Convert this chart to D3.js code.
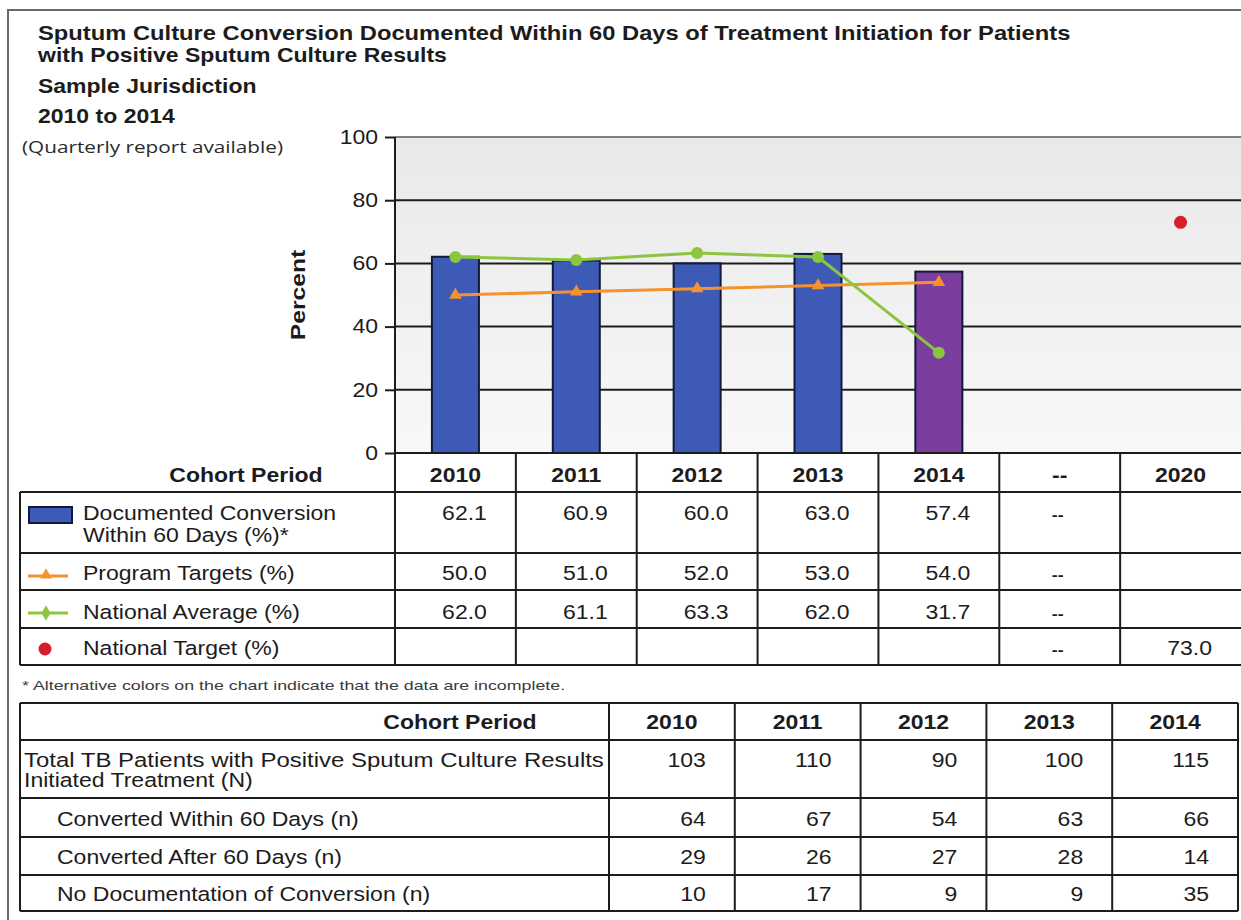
<!DOCTYPE html>
<html>
<head>
<meta charset="utf-8">
<script src="https://cdn.jsdelivr.net/npm/d3@7"></script>
<style>
  body { margin: 0; background: #fff; }
  svg { display: block; }
</style>
</head>
<body>
<div id="chart"></div>
<script>
// chart data
const periods = ["2010", "2011", "2012", "2013", "2014", "--", "2020"];
const dataYears = ["2010", "2011", "2012", "2013", "2014"];
const conversionPct = [62.1, 60.9, 60.0, 63.0, 57.4];
const incomplete = [false, false, false, false, true];
const programTargets = [50.0, 51.0, 52.0, 53.0, 54.0];
const nationalAverage = [62.0, 61.1, 63.3, 62.0, 31.7];
const nationalTargetYear = "2020";
const nationalTarget = 73.0;
const yTicks = [0, 20, 40, 60, 80, 100];

const totalPatients = [103, 110, 90, 100, 115];
const convertedWithin = [64, 67, 54, 63, 66];
const convertedAfter = [29, 26, 27, 28, 14];
const noDocumentation = [10, 17, 9, 9, 35];

const W = 1241, H = 920;
const FONT = "Arial, 'Liberation Sans', sans-serif";
const K = 1.18; // the source picture is stretched sideways a bit
const INK = "#1c1c1c";

const svg = d3.select("#chart").append("svg")
    .attr("width", W)
    .attr("height", H);

// text helper: draws text with horizontal stretch, optional fit to width
function txt(g, x, y, s, o) {
    o = o || {};
    let t = g.append("text")
        .attr("transform", "translate(" + x + "," + y + ") scale(" + (o.k || K) + ",1)")
        .attr("text-anchor", o.anchor || "start")
        .style("font-family", o.font || FONT)
        .style("font-size", (o.size || 19.5) + "px")
        .style("font-weight", o.bold ? "bold" : "normal")
        .attr("fill", o.fill || INK)
        .text(s);
    if (o.w) {
        let len = t.node().getComputedTextLength();
        t.attr("transform", "translate(" + x + "," + y + ") scale(" + (o.w / len) + ",1)");
    }
    return t;
}
function hline(g, x1, x2, y, c, w) {
    g.append("line").attr("x1", x1).attr("x2", x2).attr("y1", y).attr("y2", y)
        .attr("stroke", c || INK).attr("stroke-width", w || 2);
}
function vline(g, x, y1, y2, c, w) {
    g.append("line").attr("x1", x).attr("x2", x).attr("y1", y1).attr("y2", y2)
        .attr("stroke", c || INK).attr("stroke-width", w || 2);
}

// outer frame
svg.append("rect").attr("x", 8).attr("y", 10).attr("width", W + 20).attr("height", H + 20)
    .attr("fill", "none").attr("stroke", "#6a6a6a").attr("stroke-width", 2);

// titles
txt(svg, 38, 40, "Sputum Culture Conversion Documented Within 60 Days of Treatment Initiation for Patients", {bold: true, w: 1032});
txt(svg, 38, 62, "with Positive Sputum Culture Results", {bold: true});
txt(svg, 38, 93, "Sample Jurisdiction", {bold: true});
txt(svg, 38, 123, "2010 to 2014", {bold: true});
txt(svg, 22, 153, "(Quarterly report available)", {font: "'Open Sans', 'Noto Sans', sans-serif", size: 17, w: 261, fill: "#2a2a2a"});

// scales
const x = d3.scaleBand().domain(periods).range([395, 1241]);
const y = d3.scaleLinear().domain([0, 100]).range([453, 137]);
const xc = function(p) { return x(p) + x.bandwidth() / 2; };

// plot background
const defs = svg.append("defs");
const grad = defs.append("linearGradient").attr("id", "bg").attr("x1", 0).attr("x2", 0).attr("y1", 0).attr("y2", 1);
grad.append("stop").attr("offset", "0%").attr("stop-color", "#e9e9e9");
grad.append("stop").attr("offset", "100%").attr("stop-color", "#f8f8f8");
svg.append("rect").attr("x", 396).attr("y", y(100)).attr("width", W - 396).attr("height", y(0) - y(100))
    .attr("fill", "url(#bg)");

// gridlines
const plot = svg.append("g");
yTicks.filter(function(v) { return v > 0; }).forEach(function(v) {
    hline(plot, 395, W, y(v), v === 100 ? "#808080" : INK, 2);
});

// y axis
const yAxis = svg.append("g")
    .attr("transform", "translate(395,0)")
    .call(d3.axisLeft(y).tickValues(yTicks).tickSize(10).tickPadding(0).tickFormat(d3.format("d")));
yAxis.select(".domain").remove();
yAxis.selectAll(".tick line").attr("stroke", INK).attr("stroke-width", 2);
yAxis.selectAll(".tick text")
    .attr("x", -17 / K)
    .attr("transform", "scale(" + K + ",1)")
    .style("font-family", FONT)
    .style("font-size", "19.5px")
    .attr("fill", INK);

txt(svg, 0, 0, "Percent", {bold: true, anchor: "middle", w: 86})
    .attr("transform", "translate(305,295) rotate(-90) scale(" + (86 / 68) + ",1)");

// bars
const barW = 47;
svg.append("g").selectAll("rect")
    .data(dataYears)
    .join("rect")
    .attr("x", function(d) { return xc(d) - barW / 2; })
    .attr("y", function(d, i) { return y(conversionPct[i]); })
    .attr("width", barW)
    .attr("height", function(d, i) { return y(0) - y(conversionPct[i]); })
    .attr("fill", function(d, i) { return incomplete[i] ? "#7b3d9e" : "#3d5bb6"; })
    .attr("stroke", "#111a3a")
    .attr("stroke-width", 2);

// program targets line
const lineGen = d3.line()
    .x(function(d) { return xc(d.p); })
    .y(function(d) { return y(d.v); });
const targetPts = dataYears.map(function(p, i) { return {p: p, v: programTargets[i]}; });
const avgPts = dataYears.map(function(p, i) { return {p: p, v: nationalAverage[i]}; });

svg.append("path").datum(targetPts).attr("d", lineGen)
    .attr("fill", "none").attr("stroke", "#f5922e").attr("stroke-width", 3);
svg.append("g").selectAll("path")
    .data(targetPts)
    .join("path")
    .attr("d", d3.symbol().type(d3.symbolTriangle).size(70))
    .attr("transform", function(d) { return "translate(" + xc(d.p) + "," + y(d.v) + ")"; })
    .attr("fill", "#f5922e");

// national average line
svg.append("path").datum(avgPts).attr("d", lineGen)
    .attr("fill", "none").attr("stroke", "#8cc63f").attr("stroke-width", 3);
svg.append("g").selectAll("circle")
    .data(avgPts)
    .join("circle")
    .attr("cx", function(d) { return xc(d.p); })
    .attr("cy", function(d) { return y(d.v); })
    .attr("r", 6)
    .attr("fill", "#8cc63f");

// national target point
svg.append("circle")
    .attr("cx", xc(nationalTargetYear))
    .attr("cy", y(nationalTarget))
    .attr("r", 6.5)
    .attr("fill", "#d61f2c");

// ---------- table under the chart ----------
const t1 = svg.append("g");
const rowsY = [453, 492, 553, 590, 628, 665];
hline(t1, 395, W, rowsY[0]);
rowsY.slice(1).forEach(function(v) { hline(t1, 20, W, v); });
vline(t1, 20, rowsY[1], rowsY[5]);
vline(t1, 395, y(100), rowsY[5]);
periods.slice(1).forEach(function(p) { vline(t1, x(p), rowsY[0], rowsY[5]); });

txt(t1, 246, 482, "Cohort Period", {bold: true, anchor: "middle"});
periods.forEach(function(p) { txt(t1, xc(p), 482, p, {bold: true, anchor: "middle"}); });

// legend keys
t1.append("rect").attr("x", 29).attr("y", 507).attr("width", 43).attr("height", 16)
    .attr("fill", "#3d5bb6").attr("stroke", "#111a3a").attr("stroke-width", 2);
hline(t1, 28, 68, 576, "#f5922e", 3);
t1.append("path").attr("d", d3.symbol().type(d3.symbolTriangle).size(60))
    .attr("transform", "translate(46,575)").attr("fill", "#f5922e");
hline(t1, 28, 68, 613, "#8cc63f", 3);
t1.append("path").attr("d", d3.symbol().type(d3.symbolDiamond).size(70))
    .attr("transform", "translate(46,613)").attr("fill", "#8cc63f");
t1.append("circle").attr("cx", 45).attr("cy", 649).attr("r", 6.5).attr("fill", "#d61f2c");

txt(t1, 83, 520, "Documented Conversion");
txt(t1, 83, 542, "Within 60 Days (%)*");
txt(t1, 83, 580, "Program Targets (%)");
txt(t1, 83, 619, "National Average (%)");
txt(t1, 83, 655, "National Target (%)");

const pad = 29;
const rightOf = function(p) { return x(p) + x.bandwidth() - pad; };
dataYears.forEach(function(p, i) {
    txt(t1, rightOf(p), 520, conversionPct[i].toFixed(1), {anchor: "end"});
    txt(t1, rightOf(p), 580, programTargets[i].toFixed(1), {anchor: "end"});
    txt(t1, rightOf(p), 619, nationalAverage[i].toFixed(1), {anchor: "end"});
});
[520, 580, 619, 655].forEach(function(v) {
    txt(t1, xc("--") - 2, v, "--", {anchor: "middle", size: 15, bold: true});
});
txt(t1, rightOf(nationalTargetYear), 655, nationalTarget.toFixed(1), {anchor: "end"});

txt(svg, 22, 690, "* Alternative colors on the chart indicate that the data are incomplete.", {size: 12, w: 543, fill: "#3a3a3a"});

// ---------- counts table ----------
const t2 = svg.append("g");
const x2 = d3.scaleBand().domain(dataYears).range([609, 1238]);
const rows2 = [703, 740, 798, 837, 875, 911];
rows2.forEach(function(v) { hline(t2, 20, 1238, v); });
vline(t2, 20, rows2[0], rows2[5]);
vline(t2, 609, rows2[0], rows2[5]);
dataYears.forEach(function(p) { vline(t2, x2(p) + x2.bandwidth(), rows2[0], rows2[5]); });

txt(t2, 460, 729, "Cohort Period", {bold: true, anchor: "middle"});
dataYears.forEach(function(p) {
    txt(t2, x2(p) + x2.bandwidth() / 2, 729, p, {bold: true, anchor: "middle"});
});

txt(t2, 24, 767, "Total TB Patients with Positive Sputum Culture Results", {w: 580});
txt(t2, 24, 787, "Initiated Treatment (N)");
txt(t2, 57, 826, "Converted Within 60 Days (n)");
txt(t2, 57, 864, "Converted After 60 Days (n)");
txt(t2, 57, 901, "No Documentation of Conversion (n)");

const countRows = [[totalPatients, 767], [convertedWithin, 826], [convertedAfter, 864], [noDocumentation, 901]];
countRows.forEach(function(r) {
    dataYears.forEach(function(p, i) {
        txt(t2, x2(p) + x2.bandwidth() - pad, r[1], String(r[0][i]), {anchor: "end"});
    });
});
</script>
</body>
</html>
